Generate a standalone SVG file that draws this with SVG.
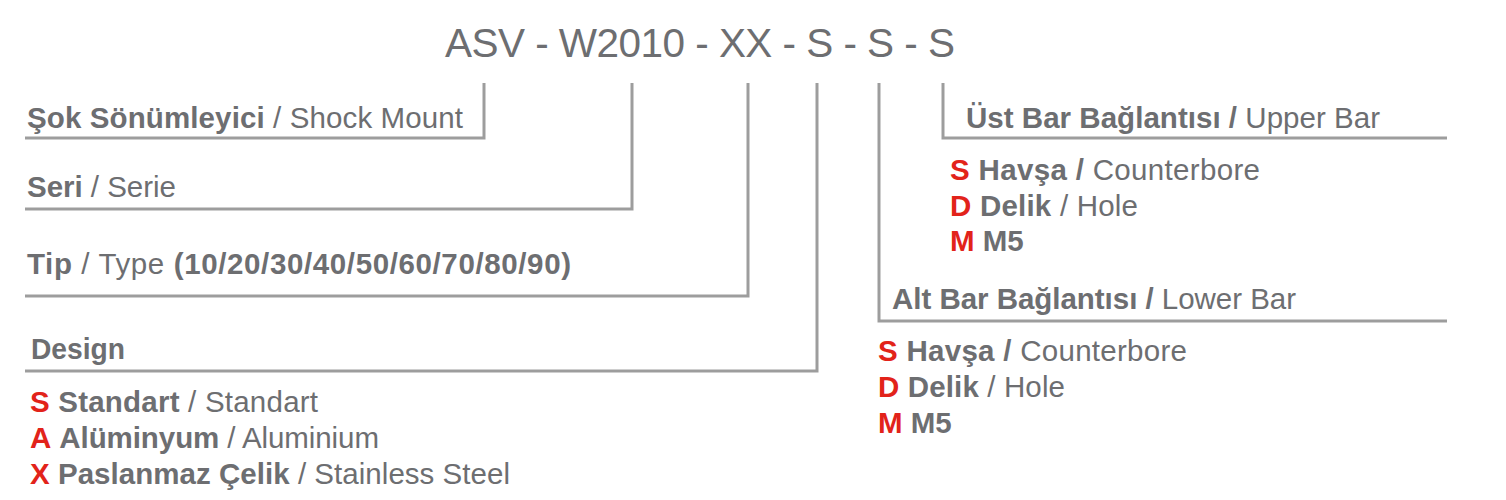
<svg xmlns="http://www.w3.org/2000/svg" width="1506" height="500" viewBox="0 0 1506 500">
<style>
text{font-family:"Liberation Sans",Arial,sans-serif;fill:#6d6e71;font-size:29.5px}
.b{font-weight:bold}
.r{fill:#e2231a;font-weight:bold}
.t{font-size:40.5px}
.ln{fill:none;stroke:#9d9d9d;stroke-width:3}
</style>
<rect width="1506" height="500" fill="#fff"/>
<g id="title"><text class="t" x="445" y="57" textLength="510" lengthAdjust="spacing">ASV - W2010 - XX - S - S - S</text></g>
<g id="connectors">
<polyline class="ln" points="484,83 484,138 25,138"/>
<polyline class="ln" points="632,83 632,209 25,209"/>
<polyline class="ln" points="748,83 748,296 25,296"/>
<polyline class="ln" points="817,83 817,371 25,371"/>
<polyline class="ln" points="879,83 879,321 1447,321"/>
<polyline class="ln" points="943,83 943,138 1447,138"/>
</g>
<g id="shock"><text x="27" y="128" textLength="436" lengthAdjust="spacing"><tspan class="b">Şok Sönümleyici</tspan> / Shock Mount</text></g>
<g id="seri"><text x="27" y="197" textLength="149" lengthAdjust="spacing"><tspan class="b">Seri</tspan> / Serie</text></g>
<g id="tip"><text x="27" y="274" textLength="544" lengthAdjust="spacing"><tspan class="b">Tip</tspan> / Type <tspan class="b">(10/20/30/40/50/60/70/80/90)</tspan></text></g>
<g id="design">
<text class="b" x="31" y="359" textLength="94" lengthAdjust="spacingAndGlyphs">Design</text>
<text x="30" y="412" textLength="288" lengthAdjust="spacing"><tspan class="r">S</tspan> <tspan class="b">Standart</tspan> / Standart</text>
<text x="30" y="448" textLength="349" lengthAdjust="spacing"><tspan class="r">A</tspan> <tspan class="b">Alüminyum</tspan> / Aluminium</text>
<text x="30" y="484" textLength="480" lengthAdjust="spacing"><tspan class="r">X</tspan> <tspan class="b">Paslanmaz Çelik</tspan> / Stainless Steel</text>
</g>
<g id="upper">
<text x="966" y="128" textLength="414" lengthAdjust="spacing"><tspan class="b">Üst Bar Bağlantısı /</tspan> Upper Bar</text>
<text x="950" y="180" textLength="310" lengthAdjust="spacing"><tspan class="r">S</tspan> <tspan class="b">Havşa /</tspan> Counterbore</text>
<text x="950" y="216" textLength="188" lengthAdjust="spacing"><tspan class="r">D</tspan> <tspan class="b">Delik</tspan> / Hole</text>
<text x="950" y="251"><tspan class="r">M</tspan> <tspan class="b">M5</tspan></text>
</g>
<g id="lower">
<text x="892" y="309" textLength="404" lengthAdjust="spacing"><tspan class="b">Alt Bar Bağlantısı /</tspan> Lower Bar</text>
<text x="878" y="361" textLength="309" lengthAdjust="spacing"><tspan class="r">S</tspan> <tspan class="b">Havşa /</tspan> Counterbore</text>
<text x="878" y="397" textLength="187" lengthAdjust="spacing"><tspan class="r">D</tspan> <tspan class="b">Delik</tspan> / Hole</text>
<text x="878" y="433"><tspan class="r">M</tspan> <tspan class="b">M5</tspan></text>
</g>
</svg>
